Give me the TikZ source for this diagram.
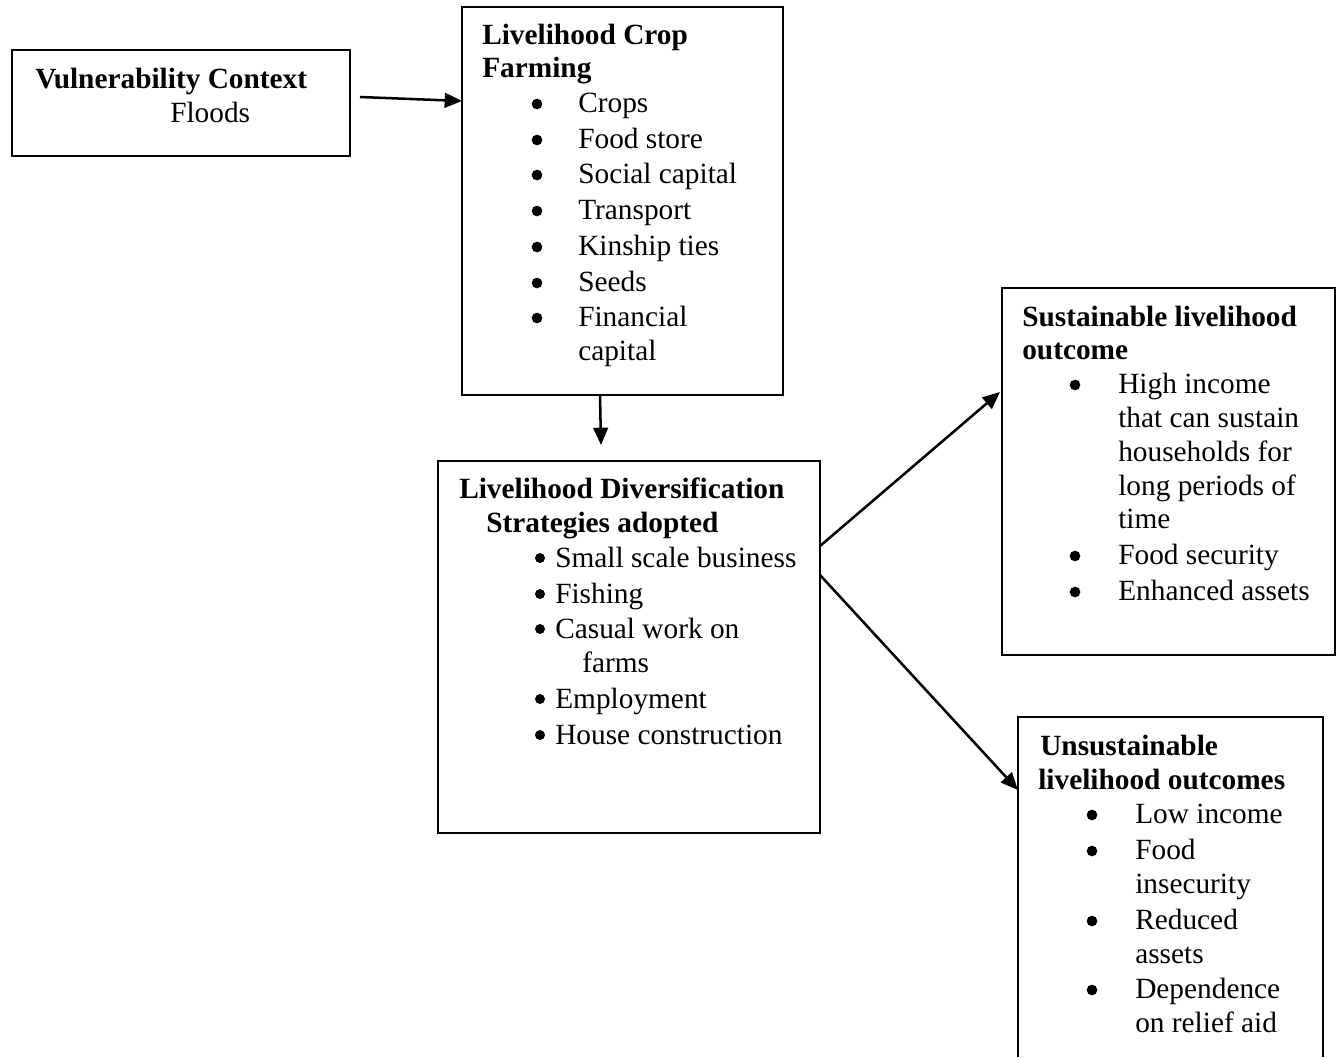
\documentclass[tikz,border=0pt]{standalone}
\usepackage{fontspec}
\setmainfont{Liberation Serif}
\usetikzlibrary{arrows.meta,calc}
\begin{document}
\begin{tikzpicture}[x=0.75pt,y=-0.75pt,
  box/.style={draw,line width=1.4pt,inner sep=0pt,outer sep=0pt,anchor=north west},
  txt/.style={anchor=base west,inner sep=0pt,font=\fontsize{22}{26}\selectfont},
  ttl/.style={txt,font=\fontsize{22}{26}\selectfont\bfseries},
  dot/.style={circle,fill,inner sep=0pt,minimum size=8pt},
  sdot/.style={circle,fill,inner sep=0pt,minimum size=7.5pt},
  arr/.style={line width=1.9pt,-{Triangle[length=13pt,width=11pt]}}]
\useasboundingbox (0,0) rectangle (1341,1057);

% boxes
\node[box,minimum width=338*0.75pt,minimum height=106*0.75pt] (vuln) at (12,50) {};
\node[box,minimum width=321*0.75pt,minimum height=388*0.75pt] (crop) at (462,7) {};
\node[box,minimum width=382*0.75pt,minimum height=372*0.75pt] (div) at (438,461) {};
\node[box,minimum width=333*0.75pt,minimum height=367*0.75pt] (sust) at (1002,288) {};
\node[box,draw=none,minimum width=305*0.75pt,minimum height=340*0.75pt] (unsust) at (1018,717) {};
\draw[line width=1.4pt] (unsust.south west) -- (unsust.north west) -- (unsust.north east) -- (unsust.south east);

% vulnerability
\node[ttl] (v1) at (35,88) {Vulnerability Context};
\node[txt] (v2) at (170,122) {Floods};

% crop farming
\node[ttl] (c1) at (482,44) {Livelihood Crop};
\node[ttl] (c2) at (482,77) {Farming};
\foreach \y/\t [count=\i] in {112/Crops,148/Food store,183/Social capital,219/Transport,255/Kinship ties,291/Seeds,326/Financial,360/capital}
  \node[txt] (ci\i) at (578,\y) {\t};
\foreach \y [count=\i] in {112,148,183,219,255,291,326}
  \node[dot] (cb\i) at (537,\y-8) {};

% diversification
\node[ttl] (d1) at (459,498) {Livelihood Diversification};
\node[ttl] (d2) at (486,532) {Strategies adopted};
\foreach \y/\t [count=\i] in {567/Small scale business,603/Fishing,638/Casual work on,708/Employment,744/House construction}
  \node[txt] (di\i) at (555,\y) {\t};
\node[txt] (di6) at (582,672) {farms};
\foreach \y [count=\i] in {567,603,638,708,744}
  \node[sdot] (db\i) at (540,\y-9) {};

% sustainable
\node[ttl] (s1) at (1022,326) {Sustainable livelihood};
\node[ttl] (s2) at (1022,359) {outcome};
\foreach \y/\t [count=\i] in {393/High income,427/that can sustain,461/households for,495/long periods of,528/time,564/Food security,600/Enhanced assets}
  \node[txt] (si\i) at (1118,\y) {\t};
\foreach \y [count=\i] in {393,564,600}
  \node[dot] (sb\i) at (1075,\y-8) {};

% unsustainable
\node[ttl] (u1) at (1040,755) {Unsustainable};
\node[ttl] (u2) at (1038,789) {livelihood outcomes};
\foreach \y/\t [count=\i] in {823/Low income,859/Food,893/insecurity,929/Reduced,963/assets,998/Dependence,1032/on relief aid}
  \node[txt] (ui\i) at (1135,\y) {\t};
\foreach \y [count=\i] in {823,859,929,998}
  \node[dot] (ub\i) at (1092,\y-8) {};

% connectors
\coordinate (a1s) at ($(vuln.north east)+(10,47)$);
\coordinate (a1e) at ($(crop.north west)+(0,94)$);
\draw[arr] (a1s) -- (a1e);
\coordinate (a2s) at ($(crop.south west)+(138,0)$);
\coordinate (a2e) at ($(div.north west)+(163,-16)$);
\draw[arr] (a2s) -- (a2e);
\coordinate (a3s) at ($(div.north east)+(0,85)$);
\coordinate (a3e) at ($(sust.north west)+(-2,104)$);
\draw[arr] (a3s) -- (a3e);
\coordinate (a4s) at ($(div.north east)+(0,114)$);
\coordinate (a4e) at ($(unsust.north west)+(0,73)$);
\draw[arr] (a4s) -- (a4e);
\end{tikzpicture}
\end{document}
